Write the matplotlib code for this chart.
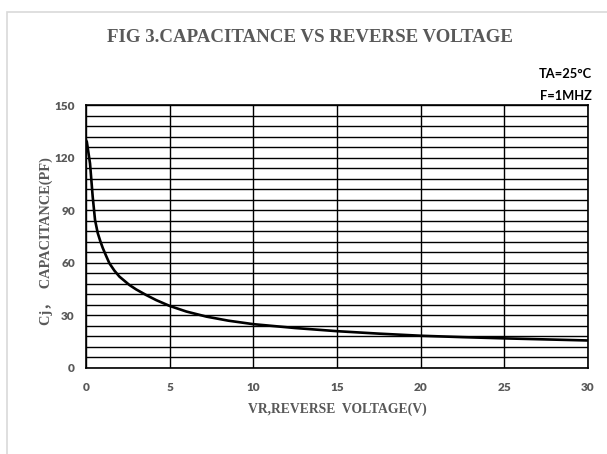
import matplotlib.pyplot as plt
from matplotlib.patches import Rectangle
from matplotlib.ticker import MultipleLocator

# values
voltage = [0, 0.05, 0.24, 0.40, 0.54, 0.7, 0.85, 1.0, 1.2, 1.4, 1.7, 2.0,
           2.6, 3.0, 3.6, 4.2, 5, 6, 7.2, 8.5, 10, 12.5, 15, 17.5, 20, 22.5,
           25, 27.5, 30]
capacitance = [130, 129, 116.7, 97.7, 84.4, 77, 72.5, 68.5, 64, 59.7, 55.5,
               52.1, 47.3, 44.8, 41.6, 38.7, 35.4, 32.2, 29.3, 27, 25, 22.8,
               21, 19.6, 18.4, 17.6, 16.9, 16.3, 15.7]

x_ticks = [0, 5, 10, 15, 20, 25, 30]
y_ticks = [0, 30, 60, 90, 120, 150]

title = "FIG 3.CAPACITANCE VS REVERSE VOLTAGE"
xlabel = "VR,REVERSE  VOLTAGE(V)"
ylabel = "Cj，  CAPACITANCE(PF)"
notes = ["TA=25°C", "F=1MHZ"]

gray = "#595959"
serif = ["Liberation Serif", "Noto Sans CJK SC", "DejaVu Sans"]


def main():
    fig = plt.figure(figsize=(6.07, 4.54), dpi=100)
    W, H = 607, 454

    # light outer frame of the original picture
    fig.patches.append(Rectangle((7 / W, -0.1), 1.2, 1 - 12 / H + 0.1,
                                 transform=fig.transFigure, fill=False,
                                 edgecolor="#d9d9d9", lw=1.2))

    ax = fig.add_axes([86 / W, 1 - 368 / H, 502 / W, 263 / H])
    ax.plot(voltage, capacitance, color="black", lw=1.9,
            solid_capstyle="round", solid_joinstyle="round")

    ax.set_xlim(0, 30)
    ax.set_ylim(0, 150)
    ax.set_xticks(x_ticks)
    ax.set_yticks(y_ticks)
    ax.yaxis.set_minor_locator(MultipleLocator(6))
    ax.grid(which="major", axis="x", color="black", lw=1)
    ax.grid(which="both", axis="y", color="black", lw=1)
    ax.tick_params(which="both", length=0)
    ax.tick_params(axis="x", pad=10)
    ax.tick_params(axis="y", pad=8)
    for s in ax.spines.values():
        s.set_color("black")
        s.set_linewidth(1.2)
    for lab in ax.get_xticklabels() + ax.get_yticklabels():
        lab.set_family("Lato")
        lab.set_fontweight("heavy")
        lab.set_color(gray)
        lab.set_fontsize(8.5)

    ax.set_xlabel(xlabel, family=serif, fontweight="bold", color=gray,
                  fontsize=9.8)
    ax.set_ylabel(ylabel, family=serif, fontweight="bold", color=gray,
                  fontsize=10.4)
    ax.xaxis.set_label_coords(0.5, -0.13)
    ax.yaxis.set_label_coords(-0.066, 0.483)

    fig.text(310 / W, 1 - 37 / H, title, family=serif, fontweight="bold",
             color=gray, fontsize=13.6, ha="center", va="center")
    fig.text(592 / W, 1 - 74 / H, notes[0], family="Lato", fontweight="bold",
             color="black", fontsize=9.3, ha="right", va="center")
    fig.text(592 / W, 1 - 96 / H, notes[1], family="Lato", fontweight="bold",
             color="black", fontsize=9.3, ha="right", va="center")

    fig.savefig("out.png", dpi=100)


if __name__ == '__main__':
    main()
